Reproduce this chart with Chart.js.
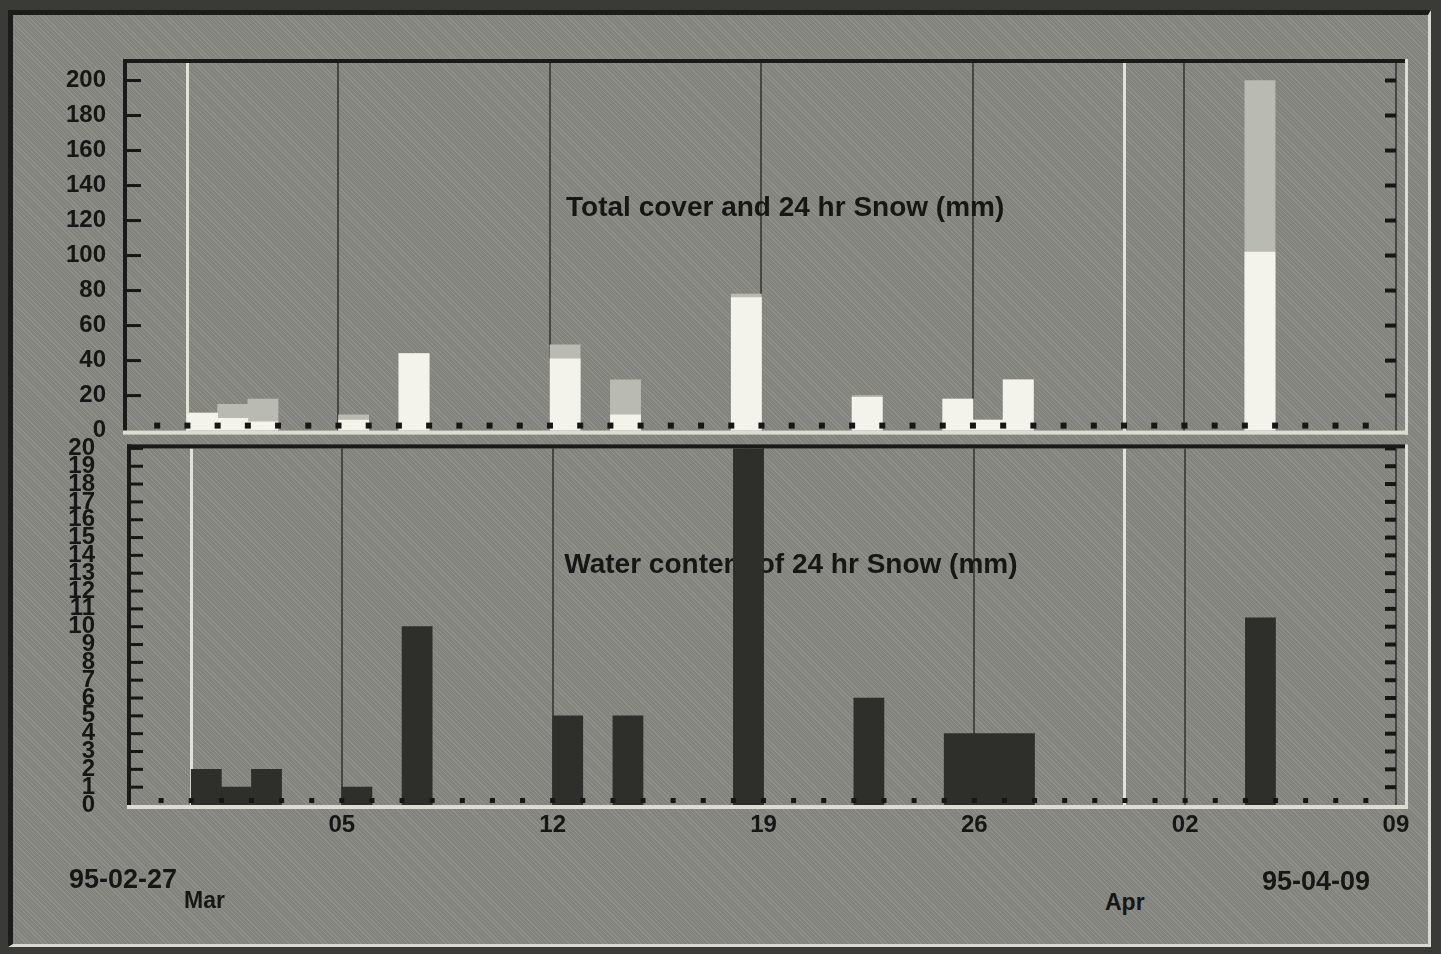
<!DOCTYPE html>
<html lang="en">
<head>
<meta charset="UTF-8">
<title>Snow record 95-02-27 to 95-04-09</title>
<script src="https://cdn.jsdelivr.net/npm/chart.js"></script>
<style>
  body {
    margin: 0;
    width: 1441px;
    height: 954px;
    background: #3a3a36;
    overflow: hidden;
    font-family: "Liberation Sans", Arial, sans-serif;
  }
  .panel {
    position: absolute;
    left: 8px;
    top: 10px;
    width: 1415px;
    height: 929px;
    background-color: #898a84;
    background-image: repeating-linear-gradient(45deg, rgba(255,255,255,0.05) 0 1px, rgba(0,0,0,0.05) 1px 3px);
    border-top: 5px solid #1c1c1a;
    border-left: 5px solid #1c1c1a;
    border-right: 3px solid #d9d9cf;
    border-bottom: 3px solid #d9d9cf;
  }
  .chart-box { position: absolute; left: 0; width: 1441px; }
  #topBox { top: 0; height: 458px; }
  #bottomBox { top: 406px; height: 469px; }
  .lbl {
    position: absolute;
    font-weight: bold;
    color: #161614;
    white-space: nowrap;
    line-height: 1;
  }
</style>
</head>
<body>
  <div class="panel"></div>

  <div class="chart-box" id="topBox"><canvas id="coverChart"></canvas></div>
  <div class="chart-box" id="bottomBox"><canvas id="waterChart"></canvas></div>

  <div class="lbl" style="left:69px; top:866px; font-size:27px;">95-02-27</div>
  <div class="lbl" style="left:184px; top:889px; font-size:23px;">Mar</div>
  <div class="lbl" style="left:1105px; top:891px; font-size:23px;">Apr</div>
  <div class="lbl" style="left:1262px; top:868px; font-size:27px;">95-04-09</div>

<script>
// period shown: 95-02-27 .. 95-04-09, one slot per day
const startDay = new Date(1995, 1, 27);
const dayCount = 42;

// days with a bar (MM-DD, 1995)
const barDays = ['03-01', '03-02', '03-03', '03-06', '03-08', '03-13', '03-15',
                 '03-19', '03-23', '03-26', '03-27', '03-28', '04-05'];
// upper panel (mm)
const snow24 = [10, 7, 5, 6, 44, 41, 9, 76, 19, 18, 6, 29, 102];
const totalCover = [10, 15, 18, 9, 44, 49, 29, 78, 20, 18, 6, 29, 200];
// lower panel (mm)
const waterContent = [2, 1, 2, 1, 10, 5, 5, 20, 6, 4, 4, 4, 10.5];

// x axis: weekly lines and month starts (day offsets from 95-02-27)
const weekTicks = [7, 14, 21, 28, 35, 42];
const weekLabels = ['05', '12', '19', '26', '02', '09'];
const monthLines = [2, 33];

// y axis tick values
const coverTicks = [0, 20, 40, 60, 80, 100, 120, 140, 160, 180, 200];
const waterTicks = [0, 1, 2, 3, 4, 5, 6, 7, 8, 9, 10, 11, 12, 13, 14, 15, 16, 17, 18, 19, 20];

function dayOffset(md) {
    const [m, d] = md.split('-').map(Number);
    return Math.round((new Date(1995, m - 1, d) - startDay) / 86400000) + 0.5;
}
function points(values) {
    return barDays.map((md, i) => ({ x: dayOffset(md), y: values[i] }));
}

const ink = '#161614';
const axisFont = { family: '"Liberation Sans", Arial, sans-serif', size: 24, weight: 'bold' };

const isMonthLine = c => !!(c.tick && monthLines.includes(c.tick.value));

// frame, day dots and inner tick marks like the original screen
const framePlugin = {
    id: 'frame',
    afterDatasetsDraw(chart, args, opts) {
        const { ctx, chartArea: a, scales } = chart;
        ctx.save();
        ctx.fillStyle = ink;
        for (let d = 1; d < dayCount; d++) {
            const x = scales.x.getPixelForValue(d);
            ctx.fillRect(x - opts.dot / 2, a.bottom - opts.dot - 2, opts.dot, opts.dot);
        }
        scales.y.ticks.forEach(t => {
            if (t.value === 0) return;
            const y = scales.y.getPixelForValue(t.value);
            ctx.fillRect(a.left, y - 1.5, opts.tick, 3);
            ctx.fillRect(a.right - 20, y - 2, 11, 4);
        });
        ctx.fillStyle = '#1a1a18';
        ctx.fillRect(a.left - 4, a.top - 4, a.width + 4, 4);
        ctx.fillRect(a.left - 4, a.top - 4, 4, a.height + 4);
        ctx.fillStyle = '#dcdcd2';
        ctx.fillRect(a.left - 4, a.bottom, a.width + 7, 4);
        ctx.fillRect(a.right, a.top - 4, 3, a.height + 8);
        ctx.restore();
    }
};

// caption written inside the plot, behind the bars
const captionPlugin = {
    id: 'caption',
    beforeDatasetsDraw(chart, args, opts) {
        const { ctx, chartArea: a } = chart;
        ctx.save();
        ctx.font = 'bold 28px "Liberation Sans", Arial, sans-serif';
        ctx.fillStyle = ink;
        ctx.textAlign = 'center';
        ctx.textBaseline = 'middle';
        ctx.fillText(opts.text, a.left + a.width * opts.fx, a.top + opts.dy);
        ctx.restore();
    }
};

function xScale(showLabels) {
    return {
        type: 'linear',
        min: 0,
        max: 42.3,
        offset: false,
        afterBuildTicks: s => {
            s.ticks = [...monthLines, ...weekTicks].sort((p, q) => p - q).map(v => ({ value: v }));
        },
        afterFit: s => { s.height = showLabels ? 70 : 1; },
        ticks: {
            display: showLabels,
            autoSkip: false,
            maxRotation: 0,
            padding: 6,
            color: ink,
            font: axisFont,
            callback: v => {
                const i = weekTicks.indexOf(v);
                return i >= 0 ? weekLabels[i] : '';
            }
        },
        grid: {
            offset: false,
            drawTicks: false,
            color: c => isMonthLine(c) ? '#e2e2d8' : '#464642',
            lineWidth: c => isMonthLine(c) ? 3 : 2
        },
        border: { display: false }
    };
}

function yScale(max, tickValues, width, pad) {
    return {
        min: 0,
        max: max,
        afterBuildTicks: s => { s.ticks = tickValues.map(v => ({ value: v })); },
        afterFit: s => { s.width = width; },
        ticks: { autoSkip: false, padding: pad, color: ink, font: axisFont },
        grid: { display: false },
        border: { display: false }
    };
}

const barStyle = { grouped: false, barPercentage: 1, categoryPercentage: 1, borderWidth: 0 };

new Chart(document.getElementById('coverChart'), {
    type: 'bar',
    data: {
        datasets: [
            { label: '24 hr Snow', data: points(snow24), backgroundColor: '#f3f3eb', ...barStyle },
            { label: 'Total cover', data: points(totalCover), backgroundColor: '#b9bab2', ...barStyle }
        ]
    },
    options: {
        responsive: true,
        maintainAspectRatio: false,
        animation: false,
        layout: { padding: { top: 63, right: 36, bottom: 2, left: 0 } },
        scales: {
            x: xScale(false),
            y: yScale(210, coverTicks, 127, 13)
        },
        plugins: {
            legend: { display: false },
            tooltip: { enabled: false },
            frame: { dot: 6, tick: 14 },
            caption: { text: 'Total cover and 24 hr Snow (mm)', fx: 0.515, dy: 145 }
        }
    },
    plugins: [framePlugin, captionPlugin]
});

new Chart(document.getElementById('waterChart'), {
    type: 'bar',
    data: {
        datasets: [
            { label: 'Water content', data: points(waterContent), backgroundColor: '#2e2e2b', ...barStyle }
        ]
    },
    options: {
        responsive: true,
        maintainAspectRatio: false,
        animation: false,
        layout: { padding: { top: 13, right: 36, bottom: 0, left: 0 } },
        scales: {
            x: xScale(true),
            y: yScale(20, waterTicks, 131, 28)
        },
        plugins: {
            legend: { display: false },
            tooltip: { enabled: false },
            frame: { dot: 5, tick: 12 },
            caption: { text: 'Water content of 24 hr Snow (mm)', fx: 0.518, dy: 117 }
        }
    },
    plugins: [framePlugin, captionPlugin]
});
</script>
</body>
</html>
